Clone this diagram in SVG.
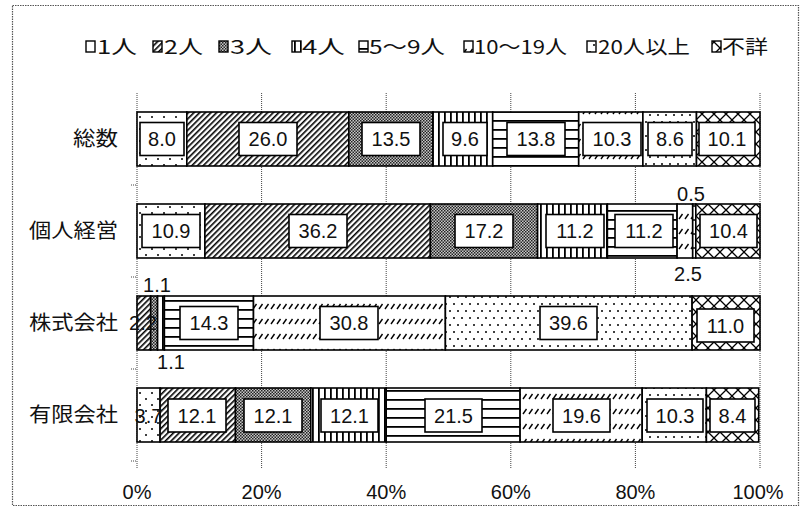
<svg xmlns="http://www.w3.org/2000/svg" width="810" height="513" viewBox="0 0 810 513">
<style>
.seg{stroke:#000;stroke-width:1.6}
.box{fill:#fff;stroke:#000;stroke-width:1.6}
.num{font-family:"Liberation Sans",Arial,sans-serif;font-size:20px;fill:#111;text-anchor:middle}
.cat{font-family:"Noto Sans CJK JP","Noto Sans",sans-serif;font-size:20px;fill:#111;text-anchor:end}
.leg{font-family:"Noto Sans CJK JP","Noto Sans",sans-serif;font-size:19px;fill:#111}
.ax{font-family:"Liberation Sans",Arial,sans-serif;font-size:20px;fill:#111;text-anchor:middle}
.grid{stroke:#444;stroke-width:1;stroke-dasharray:1 1;fill:none}
.icon{stroke:#000;stroke-width:1.4}
</style>
<defs>
<pattern id="p1" width="12" height="12" patternUnits="userSpaceOnUse">
<rect width="12" height="12" fill="#fff"/>
<circle cx="2" cy="3" r="1" fill="#000"/>
<circle cx="8" cy="9" r="1" fill="#000"/>
</pattern>
<pattern id="p2" width="4" height="10" patternUnits="userSpaceOnUse" patternTransform="rotate(45)">
<rect width="4" height="10" fill="#fff"/>
<rect width="1.6" height="10" fill="#000"/>
</pattern>
<pattern id="p3" width="3" height="3" patternUnits="userSpaceOnUse">
<rect width="3" height="3" fill="#c8c8c8"/>
<rect width="1.5" height="1.5" fill="#222"/>
<rect x="1.5" y="1.5" width="1.5" height="1.5" fill="#222"/>
</pattern>
<pattern id="p4" width="6" height="6" patternUnits="userSpaceOnUse">
<rect width="6" height="6" fill="#fff"/>
<rect x="0" width="1.8" height="6" fill="#000"/>
</pattern>
<pattern id="p5" width="9" height="9" patternUnits="userSpaceOnUse">
<rect width="9" height="9" fill="#fff"/>
<rect y="3" width="9" height="1.8" fill="#000"/>
</pattern>
<pattern id="p6" width="6" height="15" patternUnits="userSpaceOnUse">
<rect width="6" height="15" fill="#fff"/>
<line x1="1" y1="9" x2="4.5" y2="4" stroke="#000" stroke-width="1.4"/>
</pattern>
<pattern id="p7" width="8" height="14" patternUnits="userSpaceOnUse">
<rect width="8" height="14" fill="#fff"/>
<circle cx="2" cy="3" r="1" fill="#000"/>
<circle cx="6" cy="10" r="1" fill="#000"/>
</pattern>
<pattern id="p8" width="12" height="12" patternUnits="userSpaceOnUse">
<rect width="12" height="12" fill="#fff"/>
<path d="M0,0 L12,12 M12,0 L0,12" stroke="#000" stroke-width="1.3"/>
</pattern>
</defs>

<rect x="12.5" y="5.5" width="786" height="500" fill="#fff" stroke="#555" stroke-width="1.2" stroke-dasharray="1.5 1"/>

<g id="legend">
<rect class="icon" x="86" y="41" width="9" height="11" fill="#fff"/><text class="leg" x="97" y="54" textLength="40" lengthAdjust="spacingAndGlyphs">1人</text>
<rect class="icon" x="153" y="41" width="9" height="11" fill="url(#p2)"/><text class="leg" x="164" y="54" textLength="39" lengthAdjust="spacingAndGlyphs">2人</text>
<rect class="icon" x="219" y="41" width="9" height="11" fill="url(#p3)"/><text class="leg" x="230" y="54" textLength="42" lengthAdjust="spacingAndGlyphs">3人</text>
<rect class="icon" x="292" y="41" width="9" height="11" fill="url(#p4)"/><text class="leg" x="302" y="54" textLength="43" lengthAdjust="spacingAndGlyphs">4人</text>
<rect class="icon" x="359" y="41" width="9" height="11" fill="url(#p5)"/><text class="leg" x="369" y="54" textLength="76" lengthAdjust="spacingAndGlyphs">5〜9人</text>
<rect class="icon" x="464" y="41" width="9" height="11" fill="url(#p6)"/><text class="leg" x="474" y="54" textLength="93" lengthAdjust="spacingAndGlyphs">10〜19人</text>
<rect class="icon" x="587" y="41" width="9" height="11" fill="url(#p7)"/><text class="leg" x="598" y="54" textLength="92" lengthAdjust="spacingAndGlyphs">20人以上</text>
<rect class="icon" x="712" y="41" width="9" height="11" fill="url(#p8)"/><text class="leg" x="722" y="54" textLength="46" lengthAdjust="spacingAndGlyphs">不詳</text>
</g>

<g id="grid">
<line class="grid" x1="137" y1="93" x2="137" y2="468"/>
<line class="grid" x1="261.6" y1="93" x2="261.6" y2="468"/>
<line class="grid" x1="386.2" y1="93" x2="386.2" y2="468"/>
<line class="grid" x1="510.8" y1="93" x2="510.8" y2="468"/>
<line class="grid" x1="635.4" y1="93" x2="635.4" y2="468"/>
<line class="grid" x1="760" y1="93" x2="760" y2="468"/>
<line class="grid" x1="131" y1="185" x2="137" y2="185"/>
<line class="grid" x1="131" y1="277" x2="137" y2="277"/>
<line class="grid" x1="131" y1="369" x2="137" y2="369"/>
<line class="grid" x1="131" y1="461" x2="137" y2="461"/>
</g>

<g id="categories">
<text class="cat" x="118" y="146" textLength="45" lengthAdjust="spacingAndGlyphs">総数</text>
<text class="cat" x="118" y="238" textLength="89" lengthAdjust="spacingAndGlyphs">個人経営</text>
<text class="cat" x="118" y="330" textLength="89" lengthAdjust="spacingAndGlyphs">株式会社</text>
<text class="cat" x="118" y="422" textLength="89" lengthAdjust="spacingAndGlyphs">有限会社</text>
</g>

<g id="row-total">
<rect class="seg" x="137" y="112" width="49.8" height="54" fill="url(#p1)"/>
<rect class="seg" x="186.8" y="112" width="162" height="54" fill="url(#p2)"/>
<rect class="seg" x="348.8" y="112" width="84.1" height="54" fill="url(#p3)"/>
<rect class="seg" x="432.9" y="112" width="59.8" height="54" fill="url(#p4)"/>
<rect class="seg" x="492.7" y="112" width="86" height="54" fill="url(#p5)"/>
<rect class="seg" x="578.7" y="112" width="64.2" height="54" fill="url(#p6)"/>
<rect class="seg" x="642.9" y="112" width="53.6" height="54" fill="url(#p7)"/>
<rect class="seg" x="696.5" y="112" width="63.5" height="54" fill="url(#p8)"/>
<rect class="box" x="140" y="122.5" width="44" height="33"/><text class="num" x="162" y="146">8.0</text>
<rect class="box" x="239" y="122.5" width="58" height="33"/><text class="num" x="268" y="146">26.0</text>
<rect class="box" x="362" y="122.5" width="58" height="33"/><text class="num" x="391" y="146">13.5</text>
<rect class="box" x="443" y="122.5" width="44" height="33"/><text class="num" x="465" y="146">9.6</text>
<rect class="box" x="507" y="122.5" width="58" height="33"/><text class="num" x="536" y="146">13.8</text>
<rect class="box" x="583" y="122.5" width="58" height="33"/><text class="num" x="612" y="146">10.3</text>
<rect class="box" x="648" y="122.5" width="44" height="33"/><text class="num" x="670" y="146">8.6</text>
<rect class="box" x="699" y="122.5" width="56" height="33"/><text class="num" x="727" y="146">10.1</text>
</g>

<g id="row-individual">
<rect class="seg" x="137" y="204" width="67.9" height="54" fill="url(#p1)"/>
<rect class="seg" x="204.9" y="204" width="225.5" height="54" fill="url(#p2)"/>
<rect class="seg" x="430.4" y="204" width="107.2" height="54" fill="url(#p3)"/>
<rect class="seg" x="537.6" y="204" width="69.8" height="54" fill="url(#p4)"/>
<rect class="seg" x="607.4" y="204" width="69.7" height="54" fill="url(#p5)"/>
<rect class="seg" x="677.1" y="204" width="15.6" height="54" fill="url(#p6)"/>
<rect class="seg" x="692.7" y="204" width="3.1" height="54" fill="url(#p7)"/>
<rect class="seg" x="695.8" y="204" width="64.2" height="54" fill="url(#p8)"/>
<rect class="box" x="142" y="214.5" width="58" height="33"/><text class="num" x="171" y="238">10.9</text>
<rect class="box" x="289" y="214.5" width="58" height="33"/><text class="num" x="318" y="238">36.2</text>
<rect class="box" x="455" y="214.5" width="58" height="33"/><text class="num" x="484" y="238">17.2</text>
<rect class="box" x="546" y="214.5" width="58" height="33"/><text class="num" x="575" y="238">11.2</text>
<rect class="box" x="615" y="214.5" width="58" height="33"/><text class="num" x="644" y="238">11.2</text>
<rect class="box" x="700" y="214.5" width="57" height="33"/><text class="num" x="728.5" y="238">10.4</text>
<text class="num" x="691" y="201">0.5</text>
<text class="num" x="688" y="281">2.5</text>
</g>

<g id="row-corp">
<rect class="seg" x="137" y="296" width="13.7" height="54" fill="url(#p2)"/>
<rect class="seg" x="150.7" y="296" width="6.9" height="54" fill="url(#p3)"/>
<rect class="seg" x="157.6" y="296" width="6.8" height="54" fill="url(#p4)"/>
<rect class="seg" x="164.4" y="296" width="89.1" height="54" fill="url(#p5)"/>
<rect class="seg" x="253.5" y="296" width="191.9" height="54" fill="url(#p6)"/>
<rect class="seg" x="445.4" y="296" width="246.7" height="54" fill="url(#p7)"/>
<rect class="seg" x="692.1" y="296" width="67.9" height="54" fill="url(#p8)"/>
<rect class="box" x="180" y="306.5" width="58" height="33"/><text class="num" x="209" y="330">14.3</text>
<rect class="box" x="320" y="306.5" width="58" height="33"/><text class="num" x="349" y="330">30.8</text>
<rect class="box" x="540" y="306.5" width="57" height="33"/><text class="num" x="568.5" y="330">39.6</text>
<rect class="box" x="697" y="309" width="57" height="33"/><text class="num" x="725.5" y="332.5">11.0</text>
<text class="num" x="157" y="292">1.1</text>
<text class="num" x="171" y="369">1.1</text>
<text class="num" x="143" y="330">2.2</text>
</g>

<g id="row-ltd">
<rect class="seg" x="137" y="388" width="23.1" height="54" fill="url(#p1)"/>
<rect class="seg" x="160.1" y="388" width="75.4" height="54" fill="url(#p2)"/>
<rect class="seg" x="235.5" y="388" width="75.3" height="54" fill="url(#p3)"/>
<rect class="seg" x="310.8" y="388" width="75.4" height="54" fill="url(#p4)"/>
<rect class="seg" x="386.2" y="388" width="133.9" height="54" fill="url(#p5)"/>
<rect class="seg" x="520.1" y="388" width="122.1" height="54" fill="url(#p6)"/>
<rect class="seg" x="642.2" y="388" width="64.2" height="54" fill="url(#p7)"/>
<rect class="seg" x="706.4" y="388" width="52.3" height="54" fill="url(#p8)"/>
<rect class="box" x="168" y="399" width="58" height="33"/><text class="num" x="197" y="422.5">12.1</text>
<rect class="box" x="244" y="399" width="58" height="33"/><text class="num" x="273" y="422.5">12.1</text>
<rect class="box" x="321" y="399" width="57" height="33"/><text class="num" x="349.5" y="422.5">12.1</text>
<rect class="box" x="425" y="399" width="57" height="33"/><text class="num" x="453.5" y="422.5">21.5</text>
<rect class="box" x="553" y="399" width="57" height="33"/><text class="num" x="581.5" y="422.5">19.6</text>
<rect class="box" x="647" y="399" width="56" height="33"/><text class="num" x="675" y="422.5">10.3</text>
<rect class="box" x="710" y="399" width="45" height="33"/><text class="num" x="732.5" y="422.5">8.4</text>
<text class="num" x="148.5" y="422.5">3.7</text>
</g>

<g id="axis">
<text class="ax" x="137" y="499">0%</text>
<text class="ax" x="261.6" y="499">20%</text>
<text class="ax" x="386.2" y="499">40%</text>
<text class="ax" x="510.8" y="499">60%</text>
<text class="ax" x="635.4" y="499">80%</text>
<text class="ax" x="758" y="499">100%</text>
</g>
</svg>
